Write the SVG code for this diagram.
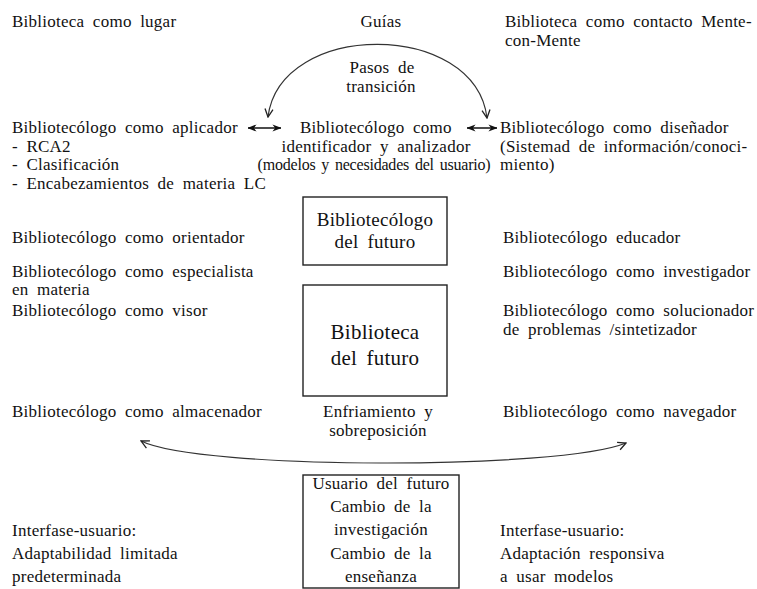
<svg xmlns="http://www.w3.org/2000/svg" width="757" height="589" viewBox="0 0 757 589">
<style>
text{font-family:"Liberation Serif","Times New Roman",serif;font-size:17px;fill:#111;letter-spacing:0.25px;word-spacing:4px}
.c{text-anchor:middle}
.s{font-size:16px;letter-spacing:-0.2px;word-spacing:2px}
.b1{font-size:19px}
.b2{font-size:21px}
.box{fill:none;stroke:#222;stroke-width:1.4}
.arc{fill:none;stroke:#333;stroke-width:1.2}
.dbl{fill:none;stroke:#111;stroke-width:1.5}
</style>
<defs>
<marker id="v" viewBox="0 0 10 10" refX="9" refY="5" markerWidth="10" markerHeight="10" markerUnits="userSpaceOnUse" orient="auto-start-reverse">
<path d="M1,1 L9,5 L1,9" fill="none" stroke="#222" stroke-width="1.3"/>
</marker>
<marker id="h" viewBox="0 0 10 10" refX="9.5" refY="5" markerWidth="9" markerHeight="9" markerUnits="userSpaceOnUse" orient="auto-start-reverse">
<path d="M0,1 L10,5 L0,9 L3,5 z" fill="#111"/>
</marker>
</defs>
<rect width="757" height="589" fill="#fff"/>

<g id="connectors">
<path class="arc" d="M268,117 C280,20 475,20 487,118" marker-start="url(#v)" marker-end="url(#v)"/>
<path class="arc" d="M141,441 C200,470 560,470 626,443" marker-start="url(#v)" marker-end="url(#v)"/>
<line class="dbl" x1="248" y1="128" x2="281" y2="128" marker-start="url(#h)" marker-end="url(#h)"/>
<line class="dbl" x1="467" y1="128" x2="497" y2="128" marker-start="url(#h)" marker-end="url(#h)"/>
</g>

<g id="biblioteca-lugar"><text x="12" y="27">Biblioteca como lugar</text></g>
<g id="guias"><text class="c" x="381" y="27">Guías</text></g>
<g id="biblioteca-contacto"><text x="505" y="27">Biblioteca como contacto Mente-</text><text x="505" y="46">con-Mente</text></g>
<g id="pasos"><text class="c" x="382" y="73">Pasos de</text><text class="c" x="381" y="92">transición</text></g>

<g id="aplicador">
<text x="12" y="133">Bibliotecólogo como aplicador</text>
<text x="12" y="152">- RCA2</text>
<text x="12" y="170">- Clasificación</text>
<text x="12" y="189">- Encabezamientos de materia LC</text>
</g>
<g id="identificador">
<text x="300" y="133">Bibliotecólogo como</text>
<text class="c" x="376" y="152">identificador y analizador</text>
<text class="c s" x="374" y="170">(modelos y necesidades del usuario)</text>
</g>
<g id="disenador">
<text x="500" y="133">Bibliotecólogo como diseñador</text>
<text x="500" y="152">(Sistemad de información/conoci-</text>
<text x="500" y="170">miento)</text>
</g>

<g id="bibliotecologo-futuro">
<rect class="box" x="303" y="197" width="144" height="68"/>
<text class="c b1" x="375" y="226">Bibliotecólogo</text>
<text class="c b1" x="375" y="248">del futuro</text>
</g>
<g id="orientador"><text x="12" y="243">Bibliotecólogo como orientador</text></g>
<g id="educador"><text x="503" y="243">Bibliotecólogo educador</text></g>
<g id="especialista"><text x="12" y="277">Bibliotecólogo como especialista</text><text x="12" y="295">en materia</text></g>
<g id="investigador"><text x="503" y="277">Bibliotecólogo como investigador</text></g>

<g id="biblioteca-futuro">
<rect class="box" x="303" y="285" width="144" height="111"/>
<text class="c b2" x="375" y="339">Biblioteca</text>
<text class="c b2" x="375" y="365">del futuro</text>
</g>
<g id="visor"><text x="12" y="316">Bibliotecólogo como visor</text></g>
<g id="solucionador"><text x="503" y="316">Bibliotecólogo como solucionador</text><text x="503" y="335">de problemas /sintetizador</text></g>

<g id="almacenador"><text x="12" y="417">Bibliotecólogo como almacenador</text></g>
<g id="enfriamiento"><text class="c" x="378" y="417">Enfriamiento y</text><text class="c" x="378" y="436">sobreposición</text></g>
<g id="navegador"><text x="503" y="417">Bibliotecólogo como navegador</text></g>

<g id="usuario-futuro">
<rect class="box" x="303" y="475" width="156" height="113"/>
<text class="c" x="381" y="489">Usuario del futuro</text>
<text class="c" x="381" y="512">Cambio de la</text>
<text class="c" x="381" y="535">investigación</text>
<text class="c" x="381" y="559">Cambio de la</text>
<text class="c" x="381" y="582">enseñanza</text>
</g>
<g id="interfase-izq">
<text x="12" y="536">Interfase-usuario:</text>
<text x="12" y="559">Adaptabilidad limitada</text>
<text x="12" y="582">predeterminada</text>
</g>
<g id="interfase-der">
<text x="500" y="536">Interfase-usuario:</text>
<text x="500" y="559">Adaptación responsiva</text>
<text x="500" y="582">a usar modelos</text>
</g>
</svg>
